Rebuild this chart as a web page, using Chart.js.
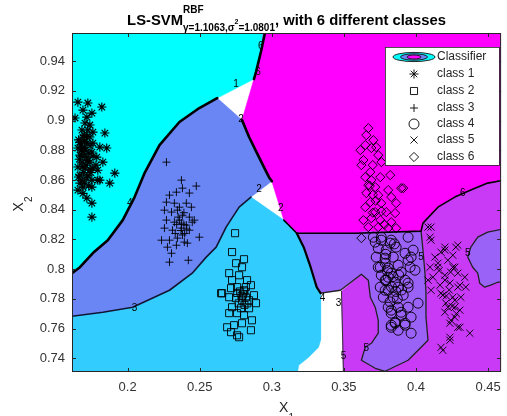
<!DOCTYPE html>
<html>
<head>
<meta charset="utf-8">
<script src="https://cdn.jsdelivr.net/npm/chart.js@4.4.1/dist/chart.umd.min.js"></script>
<style>
  html, body { margin: 0; padding: 0; background: #fff; }
  canvas { display: block; }
</style>
</head>
<body>
<canvas id="svmChart" width="507" height="416"></canvas>
<script>
// axis ticks
var xTicks = [0.2, 0.25, 0.3, 0.35, 0.4, 0.45];
var xTickLabels = ['0.2', '0.25', '0.3', '0.35', '0.4', '0.45'];
var yTicks = [0.74, 0.76, 0.78, 0.8, 0.82, 0.84, 0.86, 0.88, 0.9, 0.92, 0.94];
var yTickLabels = ['0.74', '0.76', '0.78', '0.8', '0.82', '0.84', '0.86', '0.88', '0.9', '0.92', '0.94'];
var classNames = ['class 1', 'class 2', 'class 3', 'class 4', 'class 5', 'class 6'];

// samples per class (x1, x2)
var class1 = [[.1655,.9124],[.1724,.9118],[.1821,.9091],[.1690,.9070],[.1635,.9017],[.1717,.9023],[.1752,.9050],[.1704,.8983],
  [.1738,.8970],[.1683,.8936],[.1724,.8936],[.1759,.8922],[.1842,.8916],[.1690,.8889],[.1738,.8889],[.1669,.8855],[.1717,.8848],
  [.1759,.8848],[.1807,.8821],[.1855,.8815],[.1655,.8815],[.1704,.8801],[.1752,.8788],[.1669,.8767],[.1717,.8754],[.1786,.8754],
  [.1683,.8720],[.1738,.8720],[.1828,.8720],[.1655,.8687],[.1704,.8680],[.1759,.8680],[.1793,.8666],[.1669,.8633],[.1724,.8633],
  [.1683,.8599],[.1717,.8613],[.1752,.8599],[.1793,.8599],[.1911,.8646],[.1690,.8552],[.1655,.8532],[.1752,.8552],[.1876,.8579],
  [.1717,.8478],[.1752,.8444],[.1752,.8350],[.1807,.8599],[.1669,.8579],[.1690,.8760],[.1710,.8700],[.1700,.8820],[.1740,.8830],
  [.1680,.8800],[.1730,.8780],[.1695,.8650],[.1745,.8650],[.1700,.8900],[.1660,.8870],[.1675,.8835],[.1700,.8860],[.1715,.8890],
  [.1690,.8790],[.1665,.8740],[.1720,.8730],[.1685,.8690],[.1740,.8670],[.1660,.8620],[.1700,.8580],[.1730,.8560],[.1690,.8510],
  [.1760,.8760],[.1780,.8700]];
var class2 = [[.2745,.8242],[.2724,.8115],[.2807,.8067],[.2752,.8040],[.2793,.8013],[.2704,.7973],[.2773,.7959],[.2828,.7926],
  [.2724,.7926],[.2655,.7838],[.2717,.7872],[.2759,.7879],[.2807,.7858],[.2855,.7892],[.2876,.7825],[.2704,.7811],[.2752,.7805],
  [.2793,.7791],[.2842,.7791],[.2724,.7744],[.2786,.7737],[.2842,.7737],[.2890,.7771],[.2704,.7704],[.2759,.7704],[.2807,.7690],
  [.2862,.7656],[.2690,.7609],[.2738,.7623],[.2793,.7636],[.2717,.7576],[.2759,.7555],[.2855,.7589],[.2648,.7838],[.2773,.7542],
  [.2800,.7830],[.2780,.7850],[.2820,.7810],[.2770,.7770],[.2810,.7760],[.2790,.7820],[.2810,.7850],[.2830,.7770],[.2760,.7840],
  [.2820,.7880]];
var class3 = [[.2269,.8720],[.2373,.8599],[.2476,.8559],[.2290,.8498],[.2338,.8518],[.2380,.8545],[.2428,.8512],[.2269,.8451],
  [.2324,.8444],[.2359,.8417],[.2407,.8444],[.2442,.8417],[.2255,.8397],[.2304,.8384],[.2345,.8397],[.2380,.8363],[.2428,.8350],
  [.2462,.8330],[.2269,.8330],[.2324,.8316],[.2373,.8310],[.2407,.8296],[.2255,.8276],[.2311,.8262],[.2373,.8276],[.2428,.8262],
  [.2497,.8215],[.2235,.8195],[.2290,.8195],[.2345,.8209],[.2393,.8182],[.2414,.8175],[.2276,.8148],[.2338,.8161],[.2304,.8107],
  [.2290,.8047],[.2421,.8060],[.2448,.8316],[.2350,.8350],[.2390,.8380],[.2370,.8260],[.2340,.8300],[.2395,.8240],[.2390,.8300],
  [.2360,.8330],[.2410,.8270],[.2330,.8240],[.2380,.8230]];
var class4 = [[.3717,.8182],[.3759,.8195],[.3821,.8175],[.3738,.8141],[.3793,.8128],[.3862,.8148],[.3724,.8081],[.3786,.8074],
  [.3842,.8081],[.3924,.8107],[.3980,.8128],[.3752,.8013],[.3807,.8007],[.3876,.8027],[.3945,.8060],[.3759,.7959],[.3828,.7973],
  [.3897,.7980],[.3959,.8013],[.3786,.7926],[.3855,.7912],[.3924,.7926],[.3752,.7879],[.3807,.7858],[.3876,.7879],[.3945,.7879],
  [.3773,.7811],[.3842,.7811],[.3911,.7825],[.3807,.7744],[.3876,.7744],[.3945,.7744],[.3828,.7704],[.3897,.7690],[.3855,.7643],
  [.3924,.7636],[.3876,.7589],[.3828,.7623],[.3759,.8215],[.3828,.8195],[.3945,.8215],[.3966,.8081],[.3786,.8040],[.3993,.7993],
  [.3807,.7946],[.3945,.7906],[.3786,.7858],[.4014,.7771],[.3828,.7724],[.3897,.7710],[.3966,.7677],[.3855,.7636],[.3924,.7623],
  [.3966,.7569],[.3828,.7609],[.3704,.8215],[.3738,.8013],[.3793,.7926],[.3800,.7990],[.3840,.7950],[.3860,.7850],[.3820,.7780],
  [.3900,.7860],[.3880,.7960],[.3830,.7880],[.3870,.7800],[.3790,.8100],[.3850,.8170]];
var class5 = [[.4104,.8283],[.4097,.8215],[.4173,.8114],[.4290,.8161],[.4131,.8081],[.4221,.8060],[.4097,.8013],[.4152,.8013],
  [.4269,.8013],[.4117,.7946],[.4200,.7959],[.4290,.7973],[.4166,.7892],[.4235,.7906],[.4304,.7892],[.4104,.7858],[.4186,.7825],
  [.4255,.7811],[.4207,.7771],[.4269,.7744],[.4200,.7710],[.4269,.7677],[.4235,.7636],[.4290,.7609],[.4373,.7569],[.4235,.7542],
  [.4173,.7474],[.4311,.7811],[.4345,.7879],[.4083,.7926],[.4200,.8148],[.4255,.8094],[.4083,.8283],[.4104,.8195],[.4200,.8128],
  [.4276,.8148],[.4152,.8040],[.4255,.8013],[.4338,.7946],[.4200,.7926],[.4290,.7879],[.4173,.7838],[.4269,.7791],[.4221,.7744],
  [.4304,.7724],[.4242,.7656],[.4304,.7609],[.4186,.7454],[.4235,.7522],[.4230,.7860],[.4250,.7750],[.4210,.7820],[.4280,.7700],
  [.4160,.7990],[.4240,.7980]];
var class6 = [[.3669,.8949],[.3655,.8902],[.3704,.8868],[.3614,.8801],[.3738,.8767],[.3648,.8835],[.3690,.8815],[.3724,.8821],
  [.3635,.8734],[.3621,.8700],[.3683,.8653],[.3648,.8619],[.3690,.8599],[.3752,.8619],[.3821,.8633],[.3669,.8565],[.3717,.8552],
  [.3807,.8532],[.3911,.8545],[.3655,.8512],[.3738,.8498],[.3828,.8485],[.3683,.8451],[.3759,.8444],[.3862,.8444],[.3648,.8417],
  [.3717,.8384],[.3793,.8384],[.3855,.8377],[.3635,.8330],[.3690,.8343],[.3752,.8330],[.3828,.8316],[.3669,.8283],[.3738,.8283],
  [.3807,.8276],[.3862,.8276],[.3621,.8209],[.3897,.8545],[.3720,.8460],[.3700,.8700],[.3760,.8720],[.3700,.8500],[.3760,.8390],
  [.3700,.8380],[.3780,.8300],[.3680,.8560]];

// decision regions, outline vertices
var region1 = [[0.15,0.97],[0.2952,0.97],[0.2924,0.9461],[0.2890,0.9326],[0.2876,0.9279],[0.2621,0.9151],[0.2497,0.9084],
  [0.2359,0.8990],[0.2221,0.8835],[0.2117,0.8646],[0.2048,0.8485],[0.1966,0.8330],[0.1862,0.8195],[0.1759,0.8108],
  [0.1669,0.8013],[0.1614,0.7973],[0.15,0.7965]];
var region6 = [[0.2952,0.97],[0.47,0.97],[0.47,0.8599],[0.4497,0.8579],[0.4380,0.8532],[0.4269,0.8485],[0.4152,0.8417],
  [0.4048,0.8310],[0.4035,0.8256],[0.3580,0.8242],[0.3173,0.8242],[0.3083,0.8330],[0.3000,0.8592],[0.2980,0.8619],
  [0.2945,0.8687],[0.2897,0.8781],[0.2842,0.8889],[0.2793,0.9003],[0.2876,0.9279],[0.2890,0.9326],[0.2924,0.9461]];
var region3 = [[0.2621,0.9151],[0.2793,0.9003],[0.2842,0.8889],[0.2897,0.8781],[0.2945,0.8687],[0.2980,0.8619],[0.3000,0.8592],
  [0.2855,0.8485],[0.2773,0.8417],[0.2683,0.8283],[0.2614,0.8148],[0.2545,0.8081],[0.2448,0.7973],[0.2290,0.7858],
  [0.2035,0.7744],[0.1828,0.7710],[0.1614,0.7683],[0.15,0.7680],[0.15,0.7965],[0.1614,0.7973],[0.1669,0.8013],[0.1759,0.8108],
  [0.1862,0.8195],[0.1966,0.8330],[0.2048,0.8485],[0.2117,0.8646],[0.2221,0.8835],[0.2359,0.8990],[0.2497,0.9084]];
var region2 = [[0.15,0.7680],[0.1614,0.7683],[0.1828,0.7710],[0.2035,0.7744],[0.2290,0.7858],[0.2448,0.7973],[0.2545,0.8081],
  [0.2614,0.8148],[0.2683,0.8283],[0.2773,0.8417],[0.2855,0.8485],[0.3083,0.8330],[0.3173,0.8242],[0.3221,0.8148],
  [0.3269,0.8013],[0.3311,0.7879],[0.3338,0.7838],[0.3338,0.7522],[0.3324,0.7475],[0.3255,0.7407],[0.3186,0.7353],
  [0.3160,0.72],[0.15,0.72]];
var region5 = [[0.4035,0.8256],[0.4048,0.8310],[0.4152,0.8417],[0.4269,0.8485],[0.4380,0.8532],[0.4497,0.8579],[0.47,0.8599],
  [0.47,0.72],[0.3497,0.72],[0.3483,0.7852],[0.3621,0.7966],[0.3621,0.8256]];
var region4 = [[0.3173,0.8242],[0.3580,0.8242],[0.4035,0.8256],[0.4048,0.8128],[0.4062,0.7973],[0.4069,0.7838],[0.4069,0.7677],
  [0.4083,0.7522],[0.4035,0.7475],[0.3945,0.7387],[0.3786,0.7313],[0.3717,0.7333],[0.3621,0.7387],[0.3648,0.7475],
  [0.3690,0.7501],[0.3738,0.7569],[0.3738,0.7656],[0.3717,0.7744],[0.3683,0.7811],[0.3669,0.7926],[0.3621,0.7966],
  [0.3476,0.7858],[0.3338,0.7838],[0.3311,0.7879],[0.3269,0.8013],[0.3221,0.8148]];
var region4b = [[0.47,0.8290],[0.4497,0.8249],[0.4428,0.8215],[0.4380,0.8148],[0.4359,0.8081],[0.4393,0.8013],[0.4428,0.7973],
  [0.4442,0.7905],[0.4476,0.7879],[0.4517,0.7892],[0.4566,0.7912],[0.47,0.7925]];

// contour lines between classes
var contour13 = [[0.2621,0.9151],[0.2497,0.9084],[0.2359,0.8990],[0.2221,0.8835],[0.2117,0.8646],[0.2048,0.8485],[0.1966,0.8330],
  [0.1862,0.8195],[0.1759,0.8108],[0.1669,0.8013],[0.1614,0.7973]];
var contour16 = [[0.2952,0.9589],[0.2924,0.9461],[0.2890,0.9326],[0.2876,0.9279]];
var contour36 = [[0.2793,0.9003],[0.2842,0.8889],[0.2897,0.8781],[0.2945,0.8687],[0.2980,0.8619],[0.3000,0.8592]];
var contour23 = [[0.2855,0.8485],[0.2773,0.8417],[0.2683,0.8283],[0.2614,0.8148],[0.2545,0.8081],[0.2448,0.7973],[0.2290,0.7858],
  [0.2035,0.7744],[0.1828,0.7710],[0.1614,0.7683]];
var contour6x = [[0.3083,0.8330],[0.3173,0.8242],[0.3580,0.8242],[0.4035,0.8256],[0.4048,0.8310],[0.4152,0.8417],[0.4269,0.8485],
  [0.4380,0.8532],[0.4497,0.8579],[0.459,0.8595]];
var contour24 = [[0.3173,0.8242],[0.3221,0.8148],[0.3269,0.8013],[0.3311,0.7879],[0.3338,0.7838]];
var contour45 = [[0.3338,0.7838],[0.3476,0.7858],[0.3621,0.7966],[0.3669,0.7926],[0.3683,0.7811],[0.3717,0.7744],[0.3738,0.7656],
  [0.3738,0.7569],[0.3690,0.7501],[0.3648,0.7475],[0.3621,0.7387],[0.3717,0.7333],[0.3786,0.7313],[0.3945,0.7387],
  [0.4035,0.7475],[0.4083,0.7522],[0.4069,0.7677],[0.4069,0.7838],[0.4062,0.7973],[0.4048,0.8128],[0.4035,0.8256]];
var contour5s = [[0.3483,0.7852],[0.3497,0.7308]];
var contourLabels = [[0.2752,0.9246,'1'],[0.2786,0.9010,'2'],[0.2924,0.9501,'6'],[0.2904,0.9326,'6'],[0.2014,0.8444,'4'],
  [0.2048,0.7737,'3'],[0.4324,0.8512,'6'],[0.4359,0.8108,'5'],[0.2911,0.8538,'2'],[0.3062,0.8411,'2'],[0.3352,0.7804,'4'],
  [0.3462,0.7771,'3'],[0.3655,0.7468,'5'],[0.3497,0.7414,'5'],[0.4035,0.8081,'5']];

var regionColors = ['#00ffff', '#33ccff', '#6a86f4', '#9a62f7', '#c83af6', '#ff00ff'];
var FONT = '"Liberation Sans", Arial, sans-serif';

function pts(a) {
  return a.map(function (p) { return {x: p[0], y: p[1]}; });
}

function regionSet(points, color, order) {
  return {type: 'line', data: pts(points), fill: 'shape', backgroundColor: color, borderColor: color,
    borderWidth: 0.6, pointRadius: 0, tension: 0, order: order};
}

function contourSet(points, width, color) {
  return {type: 'line', data: pts(points), fill: false, borderColor: color || '#000', borderWidth: width,
    borderJoinStyle: 'round', borderCapStyle: 'round', pointRadius: 0, tension: 0, order: 5};
}

var markers = [
  {data: class1, style: 'star', r: 4.6, lw: 1.1},
  {data: class2, style: 'rect', r: 5, lw: 0.9},
  {data: class3, style: 'cross', r: 4, lw: 0.9},
  {data: class4, style: 'circle', r: 5, lw: 0.9},
  {data: class5, style: 'crossRot', r: 5, lw: 0.9},
  {data: class6, style: 'rectRot', r: 4.6, lw: 0.9}
];

var datasets = [
  regionSet(region1, regionColors[0], 20),
  regionSet(region6, regionColors[5], 19),
  regionSet(region3, regionColors[2], 18),
  regionSet(region2, regionColors[1], 17),
  regionSet(region5, regionColors[4], 16),
  regionSet(region4, regionColors[3], 15),
  regionSet(region4b, regionColors[3], 14),
  contourSet(contour13, 2.6),
  contourSet(contour16, 2.6),
  contourSet(contour36, 2.6),
  contourSet(contour23, 1.6, '#141433'),
  contourSet(contour6x, 1.6),
  contourSet(contour24, 2.2),
  contourSet(contour45, 1.3, '#222'),
  contourSet(contour5s, 1, '#333'),
  contourSet(region4b, 1.3, '#222')
];
markers.forEach(function (m, i) {
  datasets.push({label: classNames[i], data: pts(m.data), pointStyle: m.style, pointRadius: m.r,
    borderColor: '#000', backgroundColor: 'rgba(0,0,0,0)', pointBorderWidth: m.lw, order: 1});
});

// small marker painter for the legend
function drawMarker(ctx, style, x, y, r) {
  var d = r * Math.SQRT1_2;
  ctx.beginPath();
  if (style === 'star' || style === 'cross') {
    ctx.moveTo(x - r, y); ctx.lineTo(x + r, y);
    ctx.moveTo(x, y - r); ctx.lineTo(x, y + r);
  }
  if (style === 'star' || style === 'crossRot') {
    ctx.moveTo(x - d, y - d); ctx.lineTo(x + d, y + d);
    ctx.moveTo(x - d, y + d); ctx.lineTo(x + d, y - d);
  }
  if (style === 'rect') ctx.rect(x - d, y - d, 2 * d, 2 * d);
  if (style === 'circle') ctx.arc(x, y, r, 0, Math.PI * 2);
  if (style === 'rectRot') {
    ctx.moveTo(x - r, y); ctx.lineTo(x, y - r); ctx.lineTo(x + r, y); ctx.lineTo(x, y + r); ctx.closePath();
  }
  ctx.stroke();
}

var decorations = {
  id: 'decorations',
  afterDraw: function (chart) {
    var ctx = chart.ctx, a = chart.chartArea;
    var xs = chart.scales.x, ys = chart.scales.y;
    ctx.save();

    // contour level labels
    ctx.fillStyle = '#000';
    ctx.font = '10px ' + FONT;
    ctx.textAlign = 'center';
    ctx.textBaseline = 'middle';
    contourLabels.forEach(function (c) {
      ctx.fillText(c[2], xs.getPixelForValue(c[0]), ys.getPixelForValue(c[1]));
    });

    // axes box and inward ticks
    ctx.strokeStyle = '#262626';
    ctx.lineWidth = 1;
    ctx.strokeRect(a.left + 0.5, a.top + 0.5, a.right - a.left - 1, a.bottom - a.top - 1);
    ctx.beginPath();
    xTicks.forEach(function (v) {
      var px = Math.round(xs.getPixelForValue(v)) + 0.5;
      ctx.moveTo(px, a.bottom); ctx.lineTo(px, a.bottom - 4);
      ctx.moveTo(px, a.top); ctx.lineTo(px, a.top + 4);
    });
    yTicks.forEach(function (v) {
      var py = Math.round(ys.getPixelForValue(v)) + 0.5;
      ctx.moveTo(a.left, py); ctx.lineTo(a.left + 4, py);
      ctx.moveTo(a.right, py); ctx.lineTo(a.right - 4, py);
    });
    ctx.stroke();

    // title with super/subscripts
    var big = 'bold 14.8px ' + FONT, sm = 'bold 10px ' + FONT, tiny = 'bold 7px ' + FONT;
    var t1 = 'LS-SVM', tSup = 'RBF', tSubA = '\u03b3=1.1063,\u03c3', tSub2 = '2', tSubB = '=1.0801',
      t3 = ', with 6 different classes';
    ctx.font = big;
    var w1 = ctx.measureText(t1).width, w3 = ctx.measureText(t3).width;
    ctx.font = sm;
    var wSup = ctx.measureText(tSup).width, wA = ctx.measureText(tSubA).width, wB = ctx.measureText(tSubB).width;
    ctx.font = tiny;
    var w2 = ctx.measureText(tSub2).width;
    var wBlock = Math.max(wSup, wA + w2 + wB);
    var tx = (a.left + a.right) / 2 - (w1 + wBlock + w3) / 2;
    ctx.textAlign = 'left';
    ctx.textBaseline = 'alphabetic';
    ctx.fillStyle = '#000';
    ctx.font = big; ctx.fillText(t1, tx, 25); tx += w1;
    ctx.font = sm; ctx.fillText(tSup, tx, 13); ctx.fillText(tSubA, tx, 31);
    ctx.font = tiny; ctx.fillText(tSub2, tx + wA, 24);
    ctx.font = sm; ctx.fillText(tSubB, tx + wA + w2, 31);
    tx += wBlock;
    ctx.font = big; ctx.fillText(t3, tx, 25);

    // axis labels X1, X2
    ctx.fillStyle = '#262626';
    ctx.font = '14px ' + FONT;
    var wx = ctx.measureText('X').width;
    ctx.font = '10px ' + FONT;
    var wn = ctx.measureText('1').width;
    var lx = (a.left + a.right) / 2 - (wx + wn) / 2;
    ctx.font = '14px ' + FONT; ctx.fillText('X', lx, 412);
    ctx.font = '10px ' + FONT; ctx.fillText('1', lx + wx, 421);
    ctx.save();
    ctx.translate(23, 204);
    ctx.rotate(-Math.PI / 2);
    ctx.font = '14px ' + FONT; ctx.fillText('X', -(wx + wn) / 2, 0);
    ctx.font = '10px ' + FONT; ctx.fillText('2', -(wx + wn) / 2 + wx, 9);
    ctx.restore();

    // legend
    var bx = 385, by = 47, bw = 114, bh = 118;
    ctx.fillStyle = '#fff';
    ctx.fillRect(bx, by, bw, bh);
    ctx.strokeStyle = '#262626';
    ctx.lineWidth = 0.8;
    ctx.strokeRect(bx + 0.5, by + 0.5, bw, bh);
    var rowY = [57, 74, 91, 108, 124, 140, 157];
    var mx = 414;
    // classifier icon: nested filled contours
    var rings = [[21, 4.6, regionColors[0]], [13.5, 3.2, regionColors[2]], [7, 2, regionColors[5]]];
    rings.forEach(function (e) {
      ctx.beginPath();
      ctx.ellipse(mx, rowY[0], e[0], e[1], 0, 0, Math.PI * 2);
      ctx.fillStyle = e[2];
      ctx.fill();
      ctx.strokeStyle = '#111';
      ctx.lineWidth = 0.9;
      ctx.stroke();
    });
    ctx.font = '12px ' + FONT;
    ctx.textBaseline = 'middle';
    ctx.textAlign = 'left';
    ctx.fillStyle = '#262626';
    ctx.fillText('Classifier', 437, rowY[0]);
    markers.forEach(function (m, i) {
      ctx.strokeStyle = '#000';
      ctx.lineWidth = 0.9;
      drawMarker(ctx, m.style, mx, rowY[i + 1], m.r);
      ctx.fillStyle = '#262626';
      ctx.fillText(classNames[i], 437, rowY[i + 1]);
    });

    ctx.restore();
  }
};

new Chart(document.getElementById('svmChart'), {
  type: 'scatter',
  data: {datasets: datasets},
  options: {
    responsive: false,
    animation: false,
    events: [],
    layout: {padding: {left: 0, right: 4, top: 33, bottom: 0}},
    plugins: {legend: {display: false}, tooltip: {enabled: false}, title: {display: false}},
    scales: {
      x: {
        type: 'linear', min: 0.1614, max: 0.459,
        grid: {display: false, drawTicks: false},
        border: {display: false},
        ticks: {autoSkip: false, maxRotation: 0, padding: 8, color: '#333', font: {family: FONT, size: 13},
          callback: function (v, i) { return xTickLabels[i]; }},
        afterBuildTicks: function (s) { s.ticks = xTicks.map(function (v) { return {value: v}; }); },
        afterFit: function (s) { s.height = 44; s.paddingLeft = 0; s.paddingRight = 0; }
      },
      y: {
        type: 'linear', min: 0.7308, max: 0.9589,
        grid: {display: false, drawTicks: false},
        border: {display: false},
        ticks: {autoSkip: false, padding: 7, color: '#333', font: {family: FONT, size: 13},
          callback: function (v, i) { return yTickLabels[i]; }},
        afterBuildTicks: function (s) { s.ticks = yTicks.map(function (v) { return {value: v}; }); },
        afterFit: function (s) { s.width = 72; s.paddingTop = 0; s.paddingBottom = 0; }
      }
    }
  },
  plugins: [decorations]
});
</script>
</body>
</html>
